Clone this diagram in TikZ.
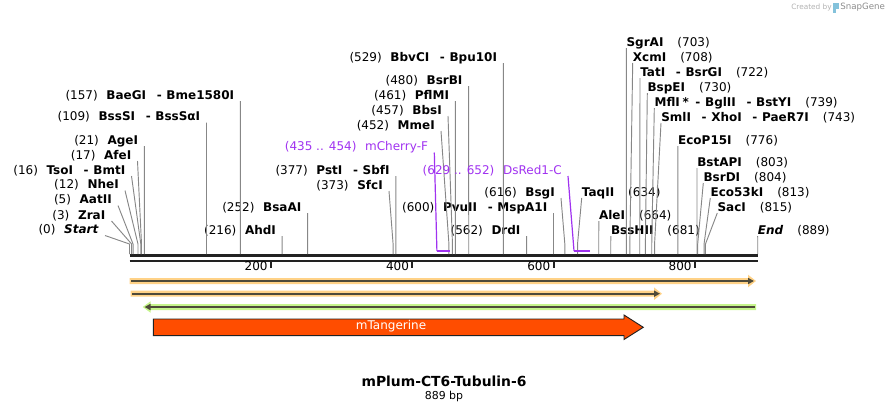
\documentclass[tikz,border=0pt]{standalone}
\usepackage{fontspec}
\setmainfont{DejaVu Sans}
\usetikzlibrary{arrows.meta}

\definecolor{primer}{RGB}{160,50,240}
\definecolor{featorange}{RGB}{255,210,135}
\definecolor{featgreen}{RGB}{198,245,140}
\definecolor{featline}{RGB}{78,74,58}
\definecolor{tangerine}{RGB}{255,77,0}
\definecolor{cutgray}{RGB}{135,135,135}
\definecolor{seqblack}{RGB}{34,34,34}

\tikzset{
	enz/.style={font=\fontsize{9}{10}\selectfont, text height=7pt, text depth=1.2pt, inner ysep=0pt},
	enzL/.style={enz, anchor=south east, inner xsep=4.5pt},
	enzR/.style={enz, anchor=south west, inner xsep=0pt},
	cutline/.style={draw=cutgray, line width=0.7pt},
	seqline/.style={draw=seqblack},
	featband/.style={line width=1.5pt, draw=featline},
}

\newcommand{\enzdash}{\hspace{8pt}-\hspace{3.5pt}}
\newcommand{\numgap}{\hspace{6.5pt}}
\newcommand{\namegap}{\hspace{10.5pt}}

\begin{document}
\begin{tikzpicture}[x=0.75pt, y=-0.75pt]

	% ---- parameters

	\def\xo{129.5}
	\def\sc{0.7067}
	\def\len{889}

	\useasboundingbox (0,0) rectangle (889,412);

	% ---- sequence

	\coordinate (seqL) at (\xo,255.3);
	\coordinate (seqR) at ({\xo+\len*\sc},255.3);
	\draw[seqline, line width=2pt] (seqL) -- (seqR);
	\draw[seqline, line width=1.8pt] ([yshift=-4.2]seqL) -- ([yshift=-4.2]seqR);

	\foreach \t in {200,400,600,800} {
		\coordinate (t\t) at ({\xo+\t*\sc},261);
		\draw[seqline, line width=1.5pt] (t\t) -- ++(0,6.5);
		\node[anchor=east, font=\fontsize{9}{10}\selectfont, inner sep=0pt] (tl\t) at ({\xo+\t*\sc-3},266.5) {\t};
	}

	% ---- cut sites

	\foreach \n/\bp in {start/0,zra/3,aat/5,nhe/12,tso/16,afe/17,age/21,bss/109,bae/157,ahd/216,bsaa/252,sfc/373,pst/377,mme/452,bbs/457,pfl/461,bsrb/480,bbv/529,drd/562,pvu/600,bsg/616,taq/634,ale/664,bsh/681,sgr/703,xcm/708,tat/722,bspe/730,mfl/739,sml/743,ecop/776,bsta/803,bsrd/804,ecok/813,sac/815,end/889} {
		\coordinate (k\n) at ({\xo+\bp*\sc},244);
		\coordinate (b\n) at ({\xo+\bp*\sc},254);
	}

	% ---- enzyme labels, number first

	\node[enzL] (start) at (105,235.5) {(0)\numgap\textbf{\textit{Start}}};
	\node[enzL] (zra) at (111.5,221) {(3)\numgap\textbf{ZraI}};
	\node[enzL] (aat) at (118,205.5) {(5)\numgap\textbf{AatII}};
	\node[enzL] (nhe) at (125,190.5) {(12)\numgap\textbf{NheI}};
	\node[enzL] (tso) at (131.5,176) {(16)\numgap\textbf{TsoI\enzdash BmtI}};
	\node[enzL] (afe) at (137.5,161) {(17)\numgap\textbf{AfeI}};
	\node[enzL] (age) at (144.3,146) {(21)\numgap\textbf{AgeI}};
	\node[enzL] (bss) at (206.5,122.5) {(109)\numgap\textbf{BssSI\enzdash BssSαI}};
	\node[enzL] (bae) at (240.4,101) {(157)\numgap\textbf{BaeGI\enzdash Bme1580I}};
	\node[enzL] (ahd) at (282.2,236) {(216)\numgap\textbf{AhdI}};
	\node[enzL] (bsaa) at (307.6,213) {(252)\numgap\textbf{BsaAI}};
	\node[enzL] (sfc) at (389,191) {(373)\numgap\textbf{SfcI}};
	\node[enzL] (pst) at (395.9,176) {(377)\numgap\textbf{PstI\enzdash SbfI}};
	\node[enzL] (mme) at (441,131) {(452)\numgap\textbf{MmeI}};
	\node[enzL] (bbs) at (448,116) {(457)\numgap\textbf{BbsI}};
	\node[enzL] (pfl) at (455.3,101) {(461)\numgap\textbf{PflMI}};
	\node[enzL] (bsrb) at (468.7,86) {(480)\numgap\textbf{BsrBI}};
	\node[enzL] (bbv) at (503.3,63) {(529)\numgap\textbf{BbvCI\enzdash Bpu10I}};
	\node[enzL] (drd) at (526.7,236) {(562)\numgap\textbf{DrdI}};
	\node[enzL] (pvu) at (553.5,213) {(600)\numgap\textbf{PvuII\enzdash MspA1I}};
	\node[enzL] (bsg) at (561,198) {(616)\numgap\textbf{BsgI}};

	% ---- enzyme labels, name first

	\node[enzR] (taq) at (581.7,198) {\textbf{TaqII}\namegap(634)};
	\node[enzR] (ale) at (598.8,221) {\textbf{AleI}\namegap(664)};
	\node[enzR] (bsh) at (610.8,236) {\textbf{BssHII}\namegap(681)};
	\node[enzR] (sgr) at (626.3,48) {\textbf{SgrAI}\namegap(703)};
	\node[enzR] (xcm) at (632.7,63) {\textbf{XcmI}\namegap(708)};
	\node[enzR] (tat) at (640,78) {\textbf{TatI\enzdash BsrGI}\namegap(722)};
	\node[enzR] (bspe) at (647.3,93) {\textbf{BspEI}\namegap(730)};
	\node[enzR] (mfl) at (654.3,108) {\textbf{MflI\hspace{2pt}*\hspace{5pt}-\hspace{3.5pt}BglII\enzdash BstYI}\namegap(739)};
	\node[enzR] (sml) at (661,123) {\textbf{SmlI\enzdash XhoI\enzdash PaeR7I}\namegap(743)};
	\node[enzR] (ecop) at (677.9,146) {\textbf{EcoP15I}\namegap(776)};
	\node[enzR] (bsta) at (697,168) {\textbf{BstAPI}\namegap(803)};
	\node[enzR] (bsrd) at (703.3,183) {\textbf{BsrDI}\namegap(804)};
	\node[enzR] (ecok) at (710.3,198) {\textbf{Eco53kI}\namegap(813)};
	\node[enzR] (sac) at (717.3,213) {\textbf{SacI}\namegap(815)};
	\node[enzR] (end) at (757.7,236) {\textbf{\textit{End}}\namegap(889)};

	% ---- cut lines

	\foreach \n in {start,zra,aat,nhe,tso,afe,age,bss,bae,ahd,bsaa,sfc,pst,mme,bbs,pfl,bsrb,bbv,drd,pvu,bsg} {
		\draw[cutline] (\n.south east) -- (k\n) -- (b\n);
	}
	\foreach \n in {taq,ale,bsh,sgr,xcm,tat,bspe,mfl,sml,ecop,bsta,bsrd,ecok,sac,end} {
		\draw[cutline] (\n.south west) -- (k\n) -- (b\n);
	}

	% ---- primers

	\node[enzL, text=primer] (mch) at (434.3,152.5) {(435 .. 454)\numgap mCherry-F};
	\node[enzL, text=primer] (dsr) at (568,176) {(629 .. 652)\numgap DsRed1-C};

	\coordinate (p435) at ({\xo+435*\sc},251);
	\coordinate (p454) at ({\xo+454*\sc},251);
	\coordinate (p629) at ({\xo+629*\sc},251);
	\coordinate (p652) at ({\xo+652*\sc},251);

	\draw[primer, line width=0.9pt] (mch.south east) -- (p435);
	\draw[primer, line width=1.6pt] (p435) -- (p454);
	\draw[primer, line width=0.9pt] (dsr.south east) -- (p629);
	\draw[primer, line width=1.6pt] (p629) -- (p652);

	% ---- features

	\fill[featorange] (\xo,278) -- (748,278) -- (748,274.7) -- (756,281) -- (748,287.3) -- (748,284) -- (\xo,284) -- cycle;
	\draw[featband, -{Triangle[length=4.5pt,width=4.5pt]}] (131,281) -- (754,281);

	\fill[featorange] (130.5,290.7) -- (654,290.7) -- (654,287.4) -- (662,293.7) -- (654,300) -- (654,296.7) -- (130.5,296.7) -- cycle;
	\draw[featband, -{Triangle[length=4.5pt,width=4.5pt]}] (132,293.7) -- (660,293.7);

	\fill[featgreen] (142.7,307) -- (150.5,301.3) -- (150.5,304) -- (756,304) -- (756,310) -- (150.5,310) -- (150.5,312.7) -- cycle;
	\draw[featband, {Triangle[length=4.5pt,width=4.5pt]}-] (144.5,307) -- (754.5,307);

	\filldraw[fill=tangerine, draw=seqblack, line width=0.7pt] (153.3,319) -- (624,319) -- (624,315) -- (643.3,327.3) -- (624,339.5) -- (624,335.7) -- (153.3,335.7) -- cycle;
	\node[text=white, font=\fontsize{9}{10}\selectfont] (mtang) at (391,326.5) {mTangerine};

	% ---- title

	\node[font=\bfseries\fontsize{10.4}{12}\selectfont] (title) at (444,381) {mPlum-CT6-Tubulin-6};
	\node[font=\fontsize{8.2}{10}\selectfont] (size) at (444,396) {889 bp};

	% ---- credit

	\node[anchor=west, inner sep=0pt, text=black!30, font=\fontsize{5.5}{6}\selectfont] (made) at (791,7.5) {Created by};
	\fill[black!25!cyan!55] (833,3) rectangle (836,13);
	\fill[black!25!cyan!55] (836,3) rectangle (838.5,8.5);
	\node[anchor=west, inner sep=0pt, text=black!45, font=\fontsize{6.5}{7}\selectfont] (snap) at (840,7.5) {SnapGene};

\end{tikzpicture}
\end{document}
